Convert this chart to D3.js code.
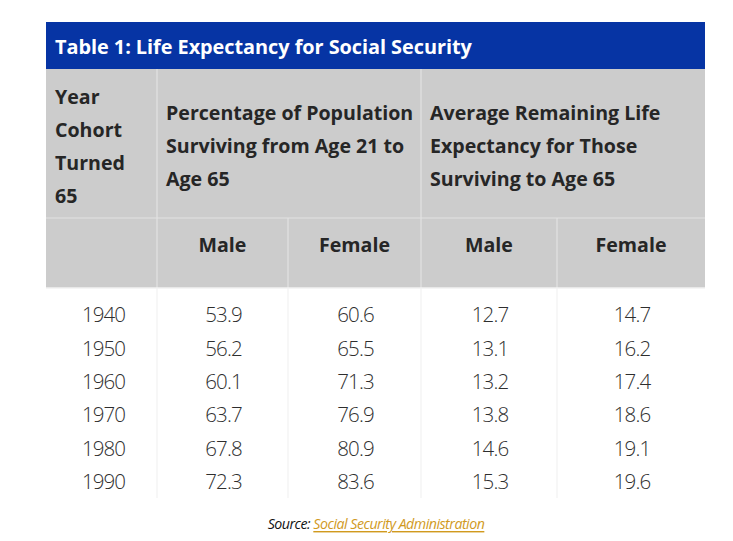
<!DOCTYPE html>
<html><head><meta charset="utf-8">
<script src="https://cdn.jsdelivr.net/npm/d3@7"></script>
<style>
body{margin:0;background:#fff;}
svg{display:block;font-family:"Open Sans",sans-serif;}
</style></head>
<body>
<svg id="chart" width="733" height="541"></svg>
<script>
const title = "Table 1: Life Expectancy for Social Security";
const years = ["1940","1950","1960","1970","1980","1990"];
const maleSurvival = ["53.9","56.2","60.1","63.7","67.8","72.3"];
const femaleSurvival = ["60.6","65.5","71.3","76.9","80.9","83.6"];
const maleRemaining = ["12.7","13.1","13.2","13.8","14.6","15.3"];
const femaleRemaining = ["14.7","16.2","17.4","18.6","19.1","19.6"];
const groupHeaders = [
  ["Year","Cohort","Turned","65"],
  ["Percentage of Population","Surviving from Age 21 to","Age 65"],
  ["Average Remaining Life","Expectancy for Those","Surviving to Age 65"]
];
const subHeaders = ["", "Male", "Female", "Male", "Female"];
const colWeights = [111, 131, 133, 136, 148];
const sourceLabel = "Source: ";
const sourceLink = "Social Security Administration";

const svg = d3.select("#chart");
const leftX = 46, rightX = 705;
const topY = 22, titleH = 47, headBottom = 218, subBottom = 288, bodyBottom = 498;

const cum = [0]; colWeights.forEach(w => cum.push(cum[cum.length-1] + w));
const xw = d3.scaleLinear().domain([0, cum[cum.length-1]]).range([leftX, rightX]);
const colX0 = i => xw(cum[i]);
const colX1 = i => xw(cum[i+1]);
const colMid = i => (colX0(i) + colX1(i)) / 2;

const y = d3.scaleBand().domain(years).range([bodyBottom - 200.5, bodyBottom - 0.5]);

svg.append("rect").attr("x", leftX).attr("y", topY).attr("width", rightX-leftX).attr("height", titleH).attr("fill", "#0634a4");
svg.append("text").attr("x", leftX + 9).attr("y", topY + titleH/2 + 1).attr("dominant-baseline","central")
  .attr("fill", "#fff").attr("font-weight", 700).attr("font-size", 19.9).style("letter-spacing","-0.05px").text(title);

svg.append("rect").attr("x", leftX).attr("y", topY+titleH).attr("width", rightX-leftX).attr("height", subBottom-topY-titleH).attr("fill", "#cccccc");

for (let i = 1; i < 5; i++) {
  svg.append("line").attr("x1", colX0(i)).attr("x2", colX0(i)).attr("y1", subBottom).attr("y2", bodyBottom)
    .attr("stroke", "#efefef").attr("stroke-width", 1);
}
svg.append("line").attr("x1", leftX).attr("x2", rightX).attr("y1", headBottom).attr("y2", headBottom).attr("stroke", "#e2e2e2").attr("stroke-width", 1.2);
[1,3].forEach(i => svg.append("line").attr("x1", colX0(i)).attr("x2", colX0(i)).attr("y1", topY+titleH).attr("y2", subBottom).attr("stroke", "#e2e2e2").attr("stroke-width", 1.2));
[2,4].forEach(i => svg.append("line").attr("x1", colX0(i)).attr("x2", colX0(i)).attr("y1", headBottom).attr("y2", subBottom).attr("stroke", "#e2e2e2").attr("stroke-width", 1.2));
svg.append("line").attr("x1", leftX).attr("x2", rightX).attr("y1", subBottom).attr("y2", subBottom).attr("stroke", "#f2f2f2").attr("stroke-width", 1.5);

const headCols = [0, 1, 3];
const lineH = 33.3;
groupHeaders.forEach((lines, gi) => {
  const startY = gi === 0 ? 96 : 112;
  const t = svg.append("g");
  lines.forEach((ln, li) => {
    t.append("text").attr("x", colX0(headCols[gi]) + 9).attr("y", startY + li*lineH)
      .attr("dominant-baseline","central").attr("fill", "#262626").attr("font-weight", 700).attr("font-size", 19.6)
      .text(ln);
  });
});
subHeaders.forEach((s, i) => {
  if (!s) return;
  svg.append("text").attr("x", colMid(i)).attr("y", 244).attr("text-anchor","middle").attr("dominant-baseline","central")
    .attr("fill", "#262626").attr("font-weight", 700).attr("font-size", 19.6).text(s);
});

const cols = [years, maleSurvival, femaleSurvival, maleRemaining, femaleRemaining];
cols.forEach((arr, ci) => {
  svg.append("g").selectAll("text").data(arr).join("text")
    .attr("x", colMid(ci) + (ci===0 ? 2 : 1))
    .attr("y", (d, i) => y(years[i]) + y.bandwidth()/2)
    .attr("text-anchor","middle").attr("dominant-baseline","central")
    .attr("fill", "#2e2e2e").attr("font-size", 20.5).attr("font-weight", 300)
    .style("letter-spacing", "-0.9px")
    .text(d => d);
});

const src = svg.append("text").attr("x", 376).attr("y", 523).attr("text-anchor","middle").attr("dominant-baseline","central")
  .attr("font-size", 14.2).attr("font-style","italic").style("letter-spacing","-0.5px");
src.append("tspan").attr("fill", "#111").text(sourceLabel);
src.append("tspan").attr("fill", "#d19a1e").attr("text-decoration","underline").text(sourceLink);
</script>
</body></html>
